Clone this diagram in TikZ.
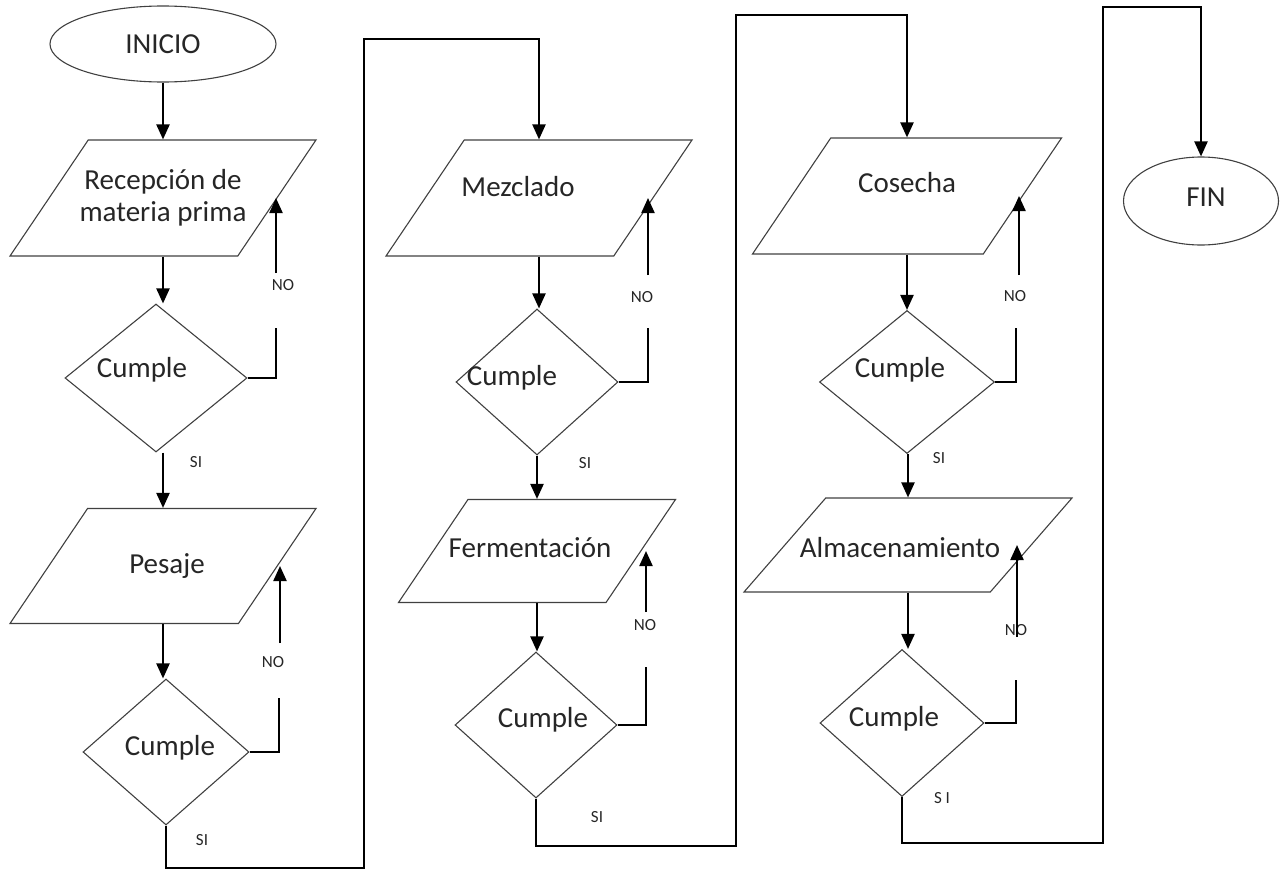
\documentclass[tikz,border=0pt]{standalone}
\usepackage{fontspec}
\setmainfont{Carlito}
\usepackage{tikz}
\usetikzlibrary{shapes.geometric,arrows.meta,positioning}

\tikzset{
  inicio/.style={ellipse,draw=black!75,line width=1.1pt,inner sep=0pt},
  proceso/.style={trapezium,trapezium left angle=56,trapezium right angle=124,
    trapezium stretches body,draw=black!75,line width=1.1pt,inner sep=0pt},
  decision/.style={diamond,draw=black!75,line width=1.1pt,inner sep=0pt},
  rotulo/.style={font=\fontsize{29}{32}\selectfont,text=black!85,align=center},
  etiq/.style={font=\fontsize{17}{19}\selectfont,text=black!85,inner sep=0pt},
  linea/.style={line width=2.2pt},
  flecha/.style={line width=2.2pt,-{Triangle[length=15pt,width=13pt]}}
}

\begin{document}
\begin{tikzpicture}[x=1pt,y=-1pt]
\useasboundingbox (0,0) rectangle (1285,870);

\node (ini) at (163,44) [inicio,minimum width=226pt,minimum height=76pt,label={[rotulo]center:INICIO}] {};
\node (rec) at (163,198) [proceso,text height=58pt,text depth=58pt,minimum width=306pt,label={[rotulo]center:Recepción de\\materia prima}] {};
\node (c1) at (156,378) [decision,minimum width=182pt,minimum height=148pt,label={[rotulo,xshift=-14pt,yshift=8pt]center:Cumple}] {};
\node (pes) at (163,566) [proceso,text height=57.5pt,text depth=57.5pt,minimum width=306pt,label={[rotulo,xshift=4pt]center:Pesaje}] {};
\node (c2) at (166,752) [decision,minimum width=166pt,minimum height=146pt,label={[rotulo,xshift=4pt,yshift=4pt]center:Cumple}] {};

\node (mez) at (539,198) [proceso,text height=58pt,text depth=58pt,minimum width=306pt,label={[rotulo,xshift=-21pt,yshift=11pt]center:Mezclado}] {};
\node (c3) at (537,382) [decision,minimum width=162pt,minimum height=146pt,label={[rotulo,xshift=-25pt,yshift=4pt]center:Cumple}] {};
\node (fer) at (537,551) [proceso,text height=51.5pt,text depth=51.5pt,minimum width=277pt,label={[rotulo,xshift=-7pt,yshift=3pt]center:Fermentación}] {};
\node (c4) at (536,725) [decision,minimum width=162pt,minimum height=146pt,label={[rotulo,xshift=7pt,yshift=5pt]center:Cumple}] {};

\node (cos) at (907,196) [proceso,text height=58pt,text depth=58pt,minimum width=309pt,label={[rotulo,yshift=13pt]center:Cosecha}] {};
\node (c5) at (907,382) [decision,minimum width=175pt,minimum height=143pt,label={[rotulo,xshift=-7pt,yshift=12pt]center:Cumple}] {};
\node (alm) at (908,545) [proceso,trapezium left angle=49,trapezium right angle=131,text height=47pt,text depth=47pt,minimum width=328pt,label={[rotulo,xshift=-8pt,yshift=-3pt]center:Almacenamiento}] {};
\node (c6) at (902,723) [decision,minimum width=164pt,minimum height=147pt,label={[rotulo,xshift=-8pt,yshift=4pt]center:Cumple}] {};

\node (fin) at (1201,201) [inicio,minimum width=155pt,minimum height=88pt,label={[rotulo,xshift=5pt,yshift=4pt]center:FIN}] {};

\node (no1) at (283,285) [etiq] {NO};
\node (si1) at (196,462) [etiq] {SI};
\node (no2) at (273,662) [etiq] {NO};
\node (si2) at (202,840) [etiq] {SI};
\node (no3) at (642,297) [etiq] {NO};
\node (si3) at (585,463) [etiq] {SI};
\node (no4) at (645,625) [etiq] {NO};
\node (si4) at (597,817) [etiq] {SI};
\node (no5) at (1015,296) [etiq] {NO};
\node (si5) at (939,458) [etiq] {SI};
\node (no6) at (1016,630) [etiq] {NO};
\node (si6) at (942,798) [etiq] {S I};

\coordinate (n1a) at (276,328);
\coordinate (n1b) at (276,273);
\coordinate (n2a) at (279,698);
\coordinate (n2b) at (280,643);
\coordinate (n3a) at (648,328);
\coordinate (n3b) at (648,275);
\coordinate (n4a) at (646,667);
\coordinate (n4b) at (646,612);
\coordinate (n5a) at (1016,328);
\coordinate (n5b) at (1019,275);
\coordinate (n6a) at (1016,680);
\coordinate (n6b) at (1017,637);
\coordinate (s1) at (364,868);
\coordinate (s1t) at (364,39);
\coordinate (s2) at (736,846);
\coordinate (s2t) at (736,15);
\coordinate (s3) at (1103,843);
\coordinate (s3t) at (1103,7);

\draw[flecha] (ini.south) -- (rec.north);
\draw[flecha] (rec.south) -- (rec.south |- c1.north);
\draw[flecha] (pes.north |- c1.south) -- (pes.north);
\draw[flecha] (pes.south) -- (pes.south |- c2.north);
\draw[linea] (c1.east) -| (n1a);
\draw[flecha] (n1b) -- (n1b |- rec.east);
\draw[linea] (c2.east) -| (n2a);
\draw[flecha] (n2b) -- (n2b |- pes.east);
\draw[flecha] (c2.south) |- (s1) -- (s1t) -| (mez.north);

\draw[flecha] (mez.south) -- (mez.south |- c3.north);
\draw[flecha] (fer.north |- c3.south) -- (fer.north);
\draw[flecha] (fer.south) -- (fer.south |- c4.north);
\draw[linea] (c3.east) -| (n3a);
\draw[flecha] (n3b) -- (n3b |- mez.east);
\draw[linea] (c4.east) -| (n4a);
\draw[flecha] (n4b) -- (n4b |- fer.east);
\draw[flecha] (c4.south) |- (s2) -- (s2t) -| (cos.north);

\draw[flecha] (cos.south) -- (cos.south |- c5.north);
\draw[flecha] (alm.north |- c5.south) -- (alm.north);
\draw[flecha] (alm.south) -- (alm.south |- c6.north);
\draw[linea] (c5.east) -| (n5a);
\draw[flecha] (n5b) -- (n5b |- cos.east);
\draw[linea] (c6.east) -| (n6a);
\draw[flecha] (n6b) -- (n6b |- alm.east);
\draw[flecha] (c6.south) |- (s3) -- (s3t) -| (fin.north);
\end{tikzpicture}
\end{document}
